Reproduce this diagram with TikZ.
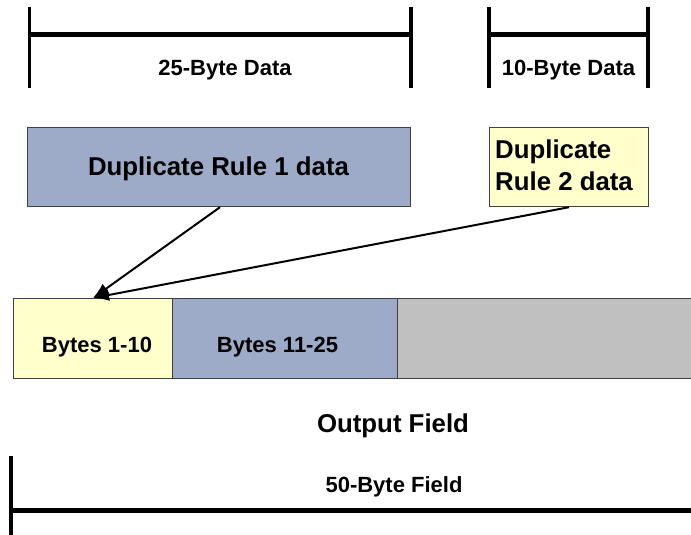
\documentclass[tikz,border=0pt]{standalone}
\usepackage{fontspec}
\setmainfont{Liberation Sans}
\usetikzlibrary{arrows.meta}
\definecolor{boxblue}{HTML}{9DAAC8}
\definecolor{boxyellow}{HTML}{FFFFCC}
\definecolor{boxgray}{HTML}{C0C0C0}
\definecolor{edgegray}{HTML}{404040}
\tikzset{
  fbox/.style={draw=edgegray, line width=1.2pt, anchor=north west, inner sep=0pt},
  lbl/.style={anchor=base, inner sep=0pt, font=\bfseries\fontsize{22}{26}\selectfont},
  biglbl/.style={anchor=base, inner sep=0pt, font=\bfseries\fontsize{25.8}{32}\selectfont},
  bar/.style={line width=5pt},
  tick/.style={line width=3.5pt},
  arr/.style={line width=2pt, -{Latex[length=16pt,width=12pt]}}
}
\begin{document}
\begin{tikzpicture}[x=1pt,y=-1pt]
\useasboundingbox (0,0) rectangle (691,535);
% top measuring bars
\coordinate (a1) at (29.5,34.5);
\coordinate (a2) at (411,34.5);
\coordinate (c1) at (489,34.5);
\coordinate (c2) at (648,34.5);
\draw[tick] (29.5,7) -- (29.5,88);
\draw[tick] (411,7) -- (411,88);
\draw[bar] (a1) -- (a2);
\draw[tick] (489,7) -- (489,88);
\draw[tick] (648,7) -- (648,88);
\draw[bar] (c1) -- (c2);
\node[lbl] (t25) at (225,76) {25-Byte Data};
\node[lbl] (t10) at (568.5,75) {10-Byte Data};
% rule boxes
\node[fbox, fill=boxblue, minimum width=383pt, minimum height=79pt] (r1) at (27,127) {};
\node[biglbl] (r1t) at (218.5,175) {Duplicate Rule 1 data};
\node[fbox, fill=boxyellow, minimum width=159pt, minimum height=79pt] (r2) at (489,127) {};
\node[anchor=base west, inner sep=0pt, align=left, font=\bfseries\fontsize{25.8}{32}\selectfont] (r2t) at (495,190) {Duplicate\\Rule 2 data};
% output field boxes
\node[fbox, fill=boxyellow, minimum width=159pt, minimum height=80pt] (b1) at (13,298) {};
\node[fbox, fill=boxblue, minimum width=225pt, minimum height=80pt] (b2) at (172,298) {};
\node[fbox, fill=boxgray, minimum width=300pt, minimum height=80pt] (b3) at (397,298) {};
\node[lbl] (b1t) at (97,352) {Bytes 1-10};
\node[lbl] (b2t) at (277.5,352) {Bytes 11-25};
% arrows
\draw[arr] (r1.south -| 220,0) -- (b1.north -| 93,0);
\draw[arr] (r2.south -| 569,0) -- (b1.north -| 93,0);
% output field label and bottom bar
\node[biglbl] (of) at (393,432) {Output Field};
\node[lbl] (t50) at (394,492) {50-Byte Field};
\coordinate (d1) at (11,510);
\coordinate (d2) at (700,510);
\draw[tick] (11,456) -- (11,540);
\draw[bar] (d1) -- (d2);
\end{tikzpicture}
\end{document}
